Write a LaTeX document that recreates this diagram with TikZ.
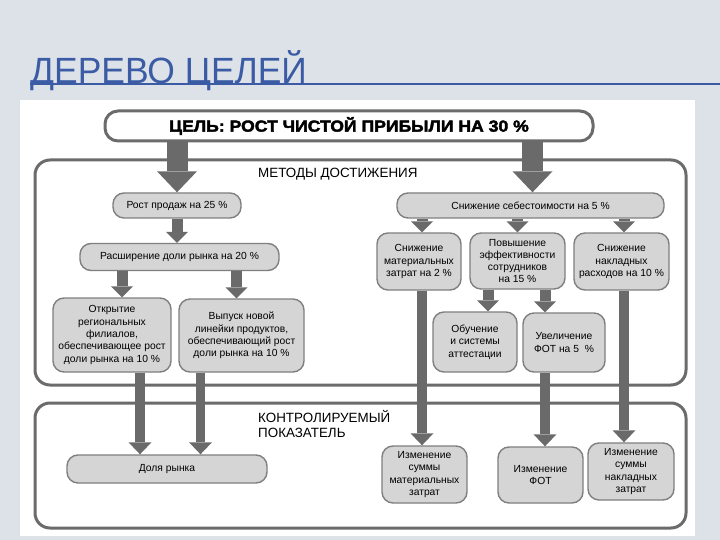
\documentclass[tikz,border=0pt]{standalone}
\usepackage{fontspec}
\setmainfont{Liberation Sans}
\newfontfamily\titlefont[FakeStretch=0.97]{Liberation Sans}
\newfontfamily\goalfont[FakeStretch=1.1,FakeBold=2.5]{Liberation Sans Bold}
\usetikzlibrary{arrows.meta}
\definecolor{slidebg}{HTML}{DCE2E8}
\definecolor{titleblue}{HTML}{3B5BA5}
\definecolor{frameline}{HTML}{6B6B6B}
\definecolor{boxfill}{HTML}{D5D5D5}
\definecolor{boxline}{HTML}{7F7F7F}
\definecolor{arrowgray}{HTML}{6A6A6A}

\begin{document}
\begin{tikzpicture}[x=1pt, y=-1pt,
      s/.style={draw=boxline, fill=boxfill, line width=1.4pt, rounded corners=11pt, font=\fontsize{10.3}{12.3}\selectfont, align=center, inner sep=1pt},
      frame/.style={draw=frameline, line width=3pt, rounded corners=15pt},
      lbl/.style={font=\fontsize{13.4}{15}\selectfont, align=left, inner sep=0pt, anchor=base west},
      bigarr/.style={color=arrowgray, line width=21pt, -{Triangle[width=40pt, length=21pt, line width=0pt]}},
      midarr/.style={color=arrowgray, line width=11pt, -{Triangle[width=22pt, length=11pt, line width=0pt]}},
      longarr/.style={color=arrowgray, line width=9.5pt, -{Triangle[width=23pt, length=12pt, line width=0pt]}}]
    \useasboundingbox (0,0) rectangle (720,540);
    \fill[slidebg] (0,0) rectangle (720,540);
    \fill[white] (20,100) rectangle (695,536);
    % title
    \node[anchor=base west, inner sep=0pt, text=titleblue, font=\titlefont\fontsize{36.5}{40}\selectfont] (title) at (30,84) {ДЕРЕВО ЦЕЛЕЙ};
    \draw[titleblue, line width=1.2pt] (30,84) -- (720,84);
    % frames
    \draw[frame] (35,160) rectangle (686,385);
    \draw[frame] (35,403) rectangle (686,528);
    \node[lbl] (methods) at (258,178) {МЕТОДЫ ДОСТИЖЕНИЯ};
    \node[lbl] (control) at (258,437) {КОНТРОЛИРУЕМЫЙ\\ПОКАЗАТЕЛЬ};
    % goal
    \node[draw=frameline, fill=white, line width=3pt, rounded corners=13pt, minimum width=488pt, minimum height=30pt, font=\goalfont\fontsize{16}{18}\selectfont] (goal) at (349,126) {ЦЕЛЬ: РОСТ ЧИСТОЙ ПРИБЫЛИ НА 30 \%};
    % left branch
    \node[s, minimum width=128pt, minimum height=25pt] (sales) at (177,205.5) {Рост продаж на 25 \%};
    \node[s, minimum width=199pt, minimum height=27pt] (share) at (179.5,257) {Расширение доли рынка на 20 \%};
    \node[s, minimum width=118pt, minimum height=74pt] (branch) at (112,335) {Открытие\\региональных\\филиалов,\\обеспечивающее рост\\доли рынка на 10 \%};
    \node[s, minimum width=125pt, minimum height=73pt] (newline) at (241.5,335.5) {Выпуск новой\\линейки продуктов,\\обеспечивающий рост\\доли рынка на 10 \%};
    % right branch
    \node[s, minimum width=267pt, minimum height=25pt] (cost) at (530.5,205.5) {Снижение себестоимости на 5 \%};
    \node[s, minimum width=84pt, minimum height=57pt] (mat) at (419,261.5) {Снижение\\материальных\\затрат на 2 \%};
    \node[s, minimum width=95pt, minimum height=56pt] (eff) at (517.5,261) {Повышение\\эффективности\\сотрудников\\на 15 \%};
    \node[s, minimum width=95pt, minimum height=57pt] (ovh) at (621.5,261.5) {Снижение\\накладных\\расходов на 10 \%};
    \node[s, minimum width=84pt, minimum height=60pt] (train) at (475,342) {Обучение\\и системы\\аттестации};
    \node[s, minimum width=82pt, minimum height=59pt] (pay) at (564,342.5) {Увеличение\\ФОТ на 5~ \%};
    % controlled indicators
    \node[s, minimum width=200pt, minimum height=28pt] (kshare) at (167,469) {Доля рынка};
    \node[s, minimum width=85pt, minimum height=57pt] (kmat) at (424.5,474.5) {Изменение\\суммы\\материальных\\затрат};
    \node[s, minimum width=85pt, minimum height=56pt] (kpay) at (540.5,475) {Изменение\\ФОТ};
    \node[s, minimum width=86pt, minimum height=57pt] (kovh) at (631,471.5) {Изменение\\суммы\\накладных\\затрат};
    % arrows
    \draw[bigarr] (goal.south -| sales.north) -- (sales.north); \draw[bigarr] ([xshift=2pt]goal.south -| cost.north) -- ([xshift=2pt]cost.north);
    \draw[midarr] (sales.south) -- (sales.south |- share.north);
    \draw[midarr] ([xshift=10pt]branch.north |- share.south) -- ([xshift=10pt]branch.north); \draw[midarr] ([xshift=-5pt]newline.north |- share.south) -- ([xshift=-5pt]newline.north);
    \draw[midarr] ([xshift=3pt]mat.north |- cost.south) -- ([xshift=3pt]mat.north); \draw[midarr] (eff.north |- cost.south) -- (eff.north); \draw[midarr] ([xshift=2.5pt]ovh.north |- cost.south) -- ([xshift=2.5pt]ovh.north);
    \draw[midarr] ([xshift=13pt]train.north |- eff.south) -- ([xshift=13pt]train.north); \draw[midarr] ([xshift=-19pt]pay.north |- eff.south) -- ([xshift=-19pt]pay.north);
    \draw[longarr] ([xshift=28pt]branch.south) -- ([xshift=28pt]branch.south |- kshare.north); \draw[longarr] ([xshift=-41pt]newline.south) -- ([xshift=-41pt]newline.south |- kshare.north);
    \draw[longarr] ([xshift=3pt]mat.south) -- ([xshift=3pt]mat.south |- kmat.north); \draw[longarr] ([xshift=-19pt]pay.south) -- ([xshift=-19pt]pay.south |- kpay.north);
    \draw[longarr] ([xshift=2.5pt]ovh.south) -- ([xshift=2.5pt]ovh.south |- kovh.north);
  \end{tikzpicture}
\end{document}
